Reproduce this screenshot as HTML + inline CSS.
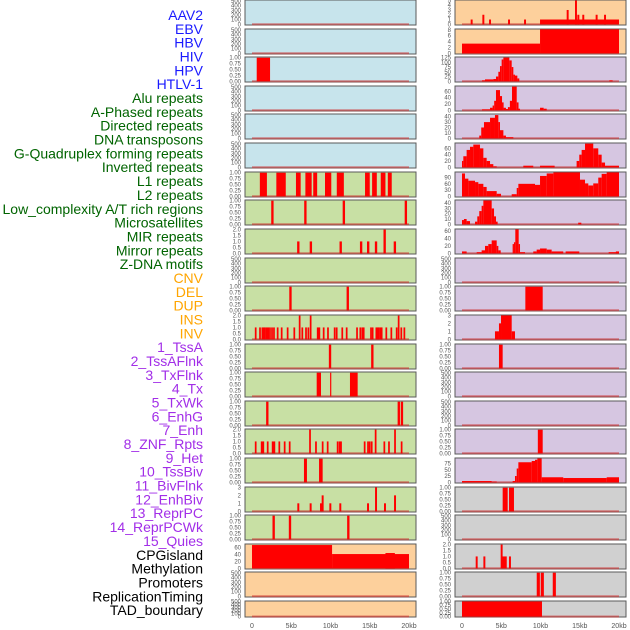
<!DOCTYPE html>
<html><head><meta charset="utf-8">
<style>
body{margin:0;background:#fff;width:630px;height:630px;overflow:hidden;font-family:"Liberation Sans",sans-serif}
svg{display:block}
</style></head>
<body>
<svg id="chart" width="630" height="630" viewBox="0 0 630 630" xmlns="http://www.w3.org/2000/svg">
<g id="labels"></g>
<g id="panels"></g>
<g id="xaxis"></g>
</svg>
<script>
// ---------- data ----------
const labelNames = ["AAV2","EBV","HBV","HIV","HPV","HTLV-1","Alu repeats","A-Phased repeats","Directed repeats","DNA transposons","G-Quadruplex forming repeats","Inverted repeats","L1 repeats","L2 repeats","Low_complexity A/T rich regions","Microsatellites","MIR repeats","Mirror repeats","Z-DNA motifs","CNV","DEL","DUP","INS","INV","1_TssA","2_TssAFlnk","3_TxFlnk","4_Tx","5_TxWk","6_EnhG","7_Enh","8_ZNF_Rpts","9_Het","10_TssBiv","11_BivFlnk","12_EnhBiv","13_ReprPC","14_ReprPCWk","15_Quies","CPGisland","Methylation","Promoters","ReplicationTiming","TAD_boundary"];
const labelGroups = ["v","v","v","v","v","v","r","r","r","r","r","r","r","r","r","r","r","r","r","c","c","c","c","c","s","s","s","s","s","s","s","s","s","s","s","s","s","s","s","o","o","o","o","o"];
const xTickValues = [0,5,10,15,20];
const xTickLabels = ["0","5kb","10kb","15kb","20kb"];

// tick sets
const T500 = [0,100,200,300,400,500];
const T1 = [0,0.25,0.5,0.75,1.0];
const T2 = [0,0.5,1.0,1.5,2.0];
const T3 = [0,1,2,3];

// left column segments: [startKb, endKb, value]
const L1 = [], L2 = [], L4 = [], L5 = [], L6 = [], L10 = [], L21 = [], L22 = [];
const L3 = [[0.6,2.3,1]];
const L7 = [[1.0,1.9,1],[3.1,4.3,1],[5.6,6.2,1],[6.8,7.6,1],[7.8,8.3,1],[9.3,10.1,1],[10.8,11.7,1],[14.4,15.0,1],[15.3,15.9,1],[16.4,17.0,1],[17.3,17.8,1]];
const L8spikes = [2.6,6.8,11.7,19.6];
const L8vals = [1,1,1,1];
const L9spikes = [5.9,7.5,11.3,13.9,14.8,15.8,16.9,18.2];
const L9vals = [1,1,1,1,1,1,2,1];
const L11spikes = [4.9,12.2];
const L11vals = [1,1];
const L12spikes = [0.47,1.02,1.32,1.49,1.66,1.87,2.08,2.29,2.55,2.80,3.27,3.78,4.54,5.39,6.07,6.41,6.88,7.18,7.47,8.37,8.58,9.13,9.68,10.53,10.79,11.5,12.06,13.38,13.8,14.06,14.23,15.16,15.37,15.84,16.01,16.18,16.39,16.52,17.11,17.75,18.43,18.68,19.02,19.41];
const L12vals = [1,1,1,1,1,1,1,1,1,1,1,1,1,1,2,1,1,1,2,1,1,1,1,1,1,1,1,1,1,1,1,1,1,1,1,1,1,1,1,1,1,2,1,1];
const L13spikes = [9.94,15.33];
const L13vals = [1,1];
const L14 = [[8.24,8.79,1],[9.95,10.1,1],[12.48,13.46,1]];
const L15spikes = [1.95,18.7,19.1];
const L15vals = [1,1,1];
const L16spikes = [0.47,1.23,1.44,2.0,2.63,2.85,3.48,4.16,4.80,7.39,8.15,9.0,9.64,10.91,11.17,11.34,14.35,14.78,14.99,15.25,15.75,16.86,17.45,18.22,19.06];
const L16vals = [1,1,1,1,1,1,1,1,1,2,1,1,1,1,1,1,1,1,1,1,2,1,1,2,1];
const L17 = [[6.62,7.0,1],[8.54,9.0,1]];
const L18spikes = [5.9,7.47,8.79,9.0,9.98,11.25,14.78,15.8,16.94,18.22];
const L18vals = [1,1,1,2,1,1,1,3,1,2];
const L19spikes = [2.76,4.84,12.27];
const L19vals = [1,1,1];
const L20 = [[0,10.2,67],[10.2,20,41],[17.0,18.2,44]];

// right column segments
const R1 = [[9.94,20,1]];
const R1spikes = [1.23,2.72,3.57,5.99,8.03,13.46,14.52,14.82,15.45,17.15,18.22];
const R1vals = [1,2,1,1,1,3,5,2,2,2,2];
const R2 = [[0,9.94,3.3],[9.94,20,8.2]];
const R3 = [[2.55,2.93,5],[2.93,4.0,10],[4.0,4.33,12],[4.33,4.63,25],[4.63,4.84,50],[4.84,5.05,80],[5.05,5.27,115],[5.27,6.03,125],[6.03,6.33,110],[6.33,6.54,75],[6.54,6.75,35],[6.75,7.05,30],[7.05,7.3,15],[18.77,19.19,5]];
const R4 = [[2.55,3.57,3],[3.57,3.9,8],[3.9,4.1,15],[4.1,4.33,30],[4.33,4.84,64],[4.84,5.1,45],[5.1,5.3,25],[5.3,5.6,8],[5.6,5.85,4],[5.85,6.1,10],[6.1,6.37,30],[6.37,6.97,75],[6.97,7.2,25],[7.2,7.39,5],[9.94,10.4,8],[10.4,10.79,5]];
const R5 = [[2.2,2.45,5],[2.45,2.8,20],[2.8,3.57,30],[3.57,4.2,38],[4.2,4.63,43],[4.63,4.84,30],[4.84,5.27,15],[5.27,5.6,5],[5.6,6.54,2]];
const R6 = [[0,0.17,20],[0.17,0.59,35],[0.59,1.02,55],[1.02,1.44,65],[1.44,2.29,72],[2.29,2.72,60],[2.72,3.14,30],[3.14,3.57,20],[3.57,3.99,10],[3.99,4.42,3],[7.81,9.08,5],[9.94,11.8,5],[14.6,14.94,20],[14.94,15.24,40],[15.24,15.67,55],[15.67,16.72,75],[16.72,17.36,60],[17.36,17.79,40],[17.79,18.22,15],[18.22,20,5]];
const R7 = [[0,0.38,110],[0.38,0.81,85],[0.81,1.66,75],[1.66,2.08,68],[2.08,2.72,60],[2.72,3.14,45],[3.14,4.42,25],[4.42,4.97,12],[6.33,6.97,10],[6.97,7.18,40],[7.18,9.30,60],[9.30,9.94,55],[9.94,10.79,98],[10.79,11.64,110],[11.64,15.03,115],[15.03,15.67,80],[15.67,16.09,62],[16.09,16.72,52],[16.72,17.36,62],[17.36,17.79,90],[17.79,18.43,108],[18.43,20,115]];
const R8 = [[0,0.25,8],[0.25,0.59,10],[0.59,1.02,6],[1.66,1.95,5],[1.95,2.2,15],[2.2,2.5,25],[2.5,2.72,35],[2.72,3.78,45],[3.78,4.08,30],[4.08,4.33,15],[4.33,4.54,5],[14.8,15.2,3]];
const R9 = [[0,0.59,5],[1.87,2.5,3],[2.5,2.93,8],[2.93,3.35,20],[3.35,3.78,25],[3.78,4.42,35],[4.42,4.63,20],[4.63,4.93,8],[6.45,6.62,25],[6.62,6.79,30],[6.79,7.22,65],[7.22,7.39,25],[7.39,8.03,3],[9.08,9.51,5],[9.51,9.94,10],[9.94,10.79,13],[10.79,11.42,10],[11.42,12.9,5],[13.2,14.94,5],[18.68,20,3],[19.6,20,5]];
const R10 = [], R14 = [], R15 = [], R19 = [];
const R11 = [[8.07,10.28,1]];
const R12 = [[4.2,4.71,1],[4.71,4.97,2],[4.97,6.33,3],[6.33,6.75,1]];
const R13 = [[4.71,5.18,1]];
const R16 = [[9.66,10.28,1]];
const R17 = [[0,3.78,5],[3.78,4.42,3],[6.45,6.75,5],[6.75,6.97,25],[6.97,7.18,55],[7.18,8.88,80],[8.88,9.30,85],[9.30,9.6,90],[9.6,10.15,95],[10.15,12.9,20],[12.9,18.43,17],[18.43,20,20]];
const R18 = [[5.18,5.82,1],[5.99,6.62,1]];
const R20 = [[5.15,5.7,1]];
const R20spikes = [1.87,2.85,5.05,6.11];
const R20vals = [1,1,2,1];
const R21spikes = [9.72,10.23,11.76];
const R21vals = [1,1,1];
const R22 = [[0,10.19,1]];

// ---------- layout ----------
const rowTops = [0,29,57,86,114,143,172,200,229,258,286,315,344,372,401,429,458,487,515,544,572,601];
const BLUE="#c7e4ec", GREEN="#c8e0a4", ORANGE="#fdd09c", PURPLE="#d6c6e1", GREY="#d0d0d0";
const colX = [245,455], colW = 171;

function sp(xs, vs, w){ return xs.map((x,i)=>[x-w/2, x+w/2, vs[i]]); }

const leftPanels = [
 {segs:L1,ymax:520,ticks:T500,bg:BLUE},{segs:L2,ymax:520,ticks:T500,bg:BLUE},
 {segs:L3,ymax:1.03,ticks:T1,bg:BLUE,fmt:2},{segs:L4,ymax:520,ticks:T500,bg:BLUE},
 {segs:L5,ymax:520,ticks:T500,bg:BLUE},{segs:L6,ymax:520,ticks:T500,bg:BLUE},
 {segs:L7,ymax:1.03,ticks:T1,bg:GREEN,fmt:2},
 {segs:sp(L8spikes,L8vals,0.3),ymax:1.03,ticks:T1,bg:GREEN,fmt:2},
 {segs:sp(L9spikes,L9vals,0.3),ymax:2.05,ticks:T2,bg:GREEN,fmt:1},
 {segs:L10,ymax:520,ticks:T500,bg:GREEN},
 {segs:sp(L11spikes,L11vals,0.3),ymax:1.03,ticks:T1,bg:GREEN,fmt:2},
 {segs:sp(L12spikes,L12vals,0.22),ymax:2.05,ticks:T2,bg:GREEN,fmt:1},
 {segs:sp(L13spikes,L13vals,0.3),ymax:1.03,ticks:T1,bg:GREEN,fmt:2},
 {segs:L14,ymax:1.03,ticks:T1,bg:GREEN,fmt:2},
 {segs:sp(L15spikes,L15vals,0.3),ymax:1.03,ticks:T1,bg:GREEN,fmt:2},
 {segs:sp(L16spikes,L16vals,0.22),ymax:2.05,ticks:T2,bg:GREEN,fmt:1},
 {segs:L17,ymax:1.03,ticks:T1,bg:GREEN,fmt:2},
 {segs:sp(L18spikes,L18vals,0.25),ymax:3.05,ticks:T3,bg:GREEN},
 {segs:sp(L19spikes,L19vals,0.3),ymax:1.03,ticks:T1,bg:GREEN,fmt:2},
 {segs:L20,ymax:70,ticks:[0,20,40,60],bg:ORANGE},
 {segs:L21,ymax:520,ticks:T500,bg:ORANGE},{segs:L22,ymax:520,ticks:T500,bg:ORANGE}
];
const rightPanels = [
 {segs:R1.concat(sp(R1spikes,R1vals,0.25)),ymax:5.1,ticks:[0,1,2,3,4,5],bg:ORANGE},
 {segs:R2,ymax:8.3,ticks:[0,2,4,6,8],bg:ORANGE},
 {segs:R3,ymax:128,ticks:[0,25,50,75,100,125],bg:PURPLE},
 {segs:R4,ymax:77,ticks:[0,20,40,60],bg:PURPLE},
 {segs:R5,ymax:45,ticks:[0,10,20,30,40],bg:PURPLE},
 {segs:R6,ymax:77,ticks:[0,20,40,60],bg:PURPLE},
 {segs:R7,ymax:117,ticks:[0,30,60,90],bg:PURPLE},
 {segs:R8,ymax:46,ticks:[0,10,20,30,40],bg:PURPLE},
 {segs:R9,ymax:66,ticks:[0,20,40,60],bg:PURPLE},
 {segs:R10,ymax:520,ticks:T500,bg:PURPLE},
 {segs:R11,ymax:1.03,ticks:T1,bg:PURPLE,fmt:2},
 {segs:R12,ymax:3.05,ticks:T3,bg:PURPLE},
 {segs:R13,ymax:1.03,ticks:T1,bg:PURPLE,fmt:2},
 {segs:R14,ymax:520,ticks:T500,bg:PURPLE},
 {segs:R15,ymax:520,ticks:T500,bg:PURPLE},
 {segs:R16,ymax:1.03,ticks:T1,bg:PURPLE,fmt:2},
 {segs:R17,ymax:97,ticks:[0,25,50,75],bg:PURPLE},
 {segs:R18,ymax:1.03,ticks:T1,bg:GREY,fmt:2},
 {segs:R19,ymax:520,ticks:T500,bg:GREY},
 {segs:R20.concat(sp(R20spikes,R20vals,0.25)),ymax:2.05,ticks:T2,bg:GREY,fmt:1},
 {segs:sp(R21spikes,R21vals,0.4),ymax:1.03,ticks:T1,bg:GREY,fmt:2},
 {segs:R22,ymax:1.03,ticks:T1,bg:GREY,fmt:2}
];

const NS="http://www.w3.org/2000/svg";
function mk(tag, attrs, parent){ const e=document.createElementNS(NS,tag); for(const k in attrs) e.setAttribute(k,attrs[k]); parent.appendChild(e); return e; }

// labels
const colorMap = {v:"#1a1aff", r:"#006400", c:"#ffa500", s:"#a22ee8", o:"#000000"};
const lg = document.getElementById("labels");
labelNames.forEach((n,i)=>{
  const t = mk("text",{x:203,y:15+i*13.84+5,"text-anchor":"end","font-size":"14",fill:colorMap[labelGroups[i]]},lg);
  
  
  t.textContent = n;
});

// panels
const pg = document.getElementById("panels");
function xScale(col, kb){ return colX[col] + 7 + kb*7.85; }
function drawPanel(p, col, row){
  const top = rowTops[row], h = (row===21)?16:25, x0 = colX[col];
  const g = mk("g",{},pg);
  
  
  const bg = mk("rect",{x:x0,y:top,width:colW,height:h,fill:p.bg,stroke:"#5a5a5a","stroke-width":"1"},g);
  
  
  const ymin = -0.03*p.ymax;
  const yS = v => top + h - (v - ymin)/(p.ymax - ymin)*h;
  // baseline
  const bl = mk("rect",{x:xScale(col,0),y:yS(0)-1,width:xScale(col,20)-xScale(col,0),height:2,fill:"rgba(205,40,40,0.55)"},g);
  
  
  p.segs.forEach(s=>{
    const xa = xScale(col,s[0]), xb = xScale(col,s[1]);
    const r = mk("rect",{x:xa,y:yS(s[2]),width:Math.max(xb-xa,1),height:Math.max(yS(0)-yS(s[2]),0),fill:"#ff0000"},g);
    
    
  });
  p.ticks.forEach(v=>{
    const t = mk("text",{x:x0-4,y:yS(v)+2,"text-anchor":"end","font-size":"6",fill:"#555"},g);
    
    
    t.textContent = p.fmt ? v.toFixed(p.fmt) : String(v);
  });
}
leftPanels.forEach((p,i)=>drawPanel(p,0,i));
rightPanels.forEach((p,i)=>drawPanel(p,1,i));

// x axes
const xg = document.getElementById("xaxis");
[0,1].forEach(col=>{
  xTickValues.forEach((v,i)=>{
    const t = mk("text",{x:xScale(col,v),y:628,"text-anchor":"middle","font-size":"7",fill:"#555"},xg);
    
    
    t.textContent = xTickLabels[i];
  });
});
</script>
</body></html>
